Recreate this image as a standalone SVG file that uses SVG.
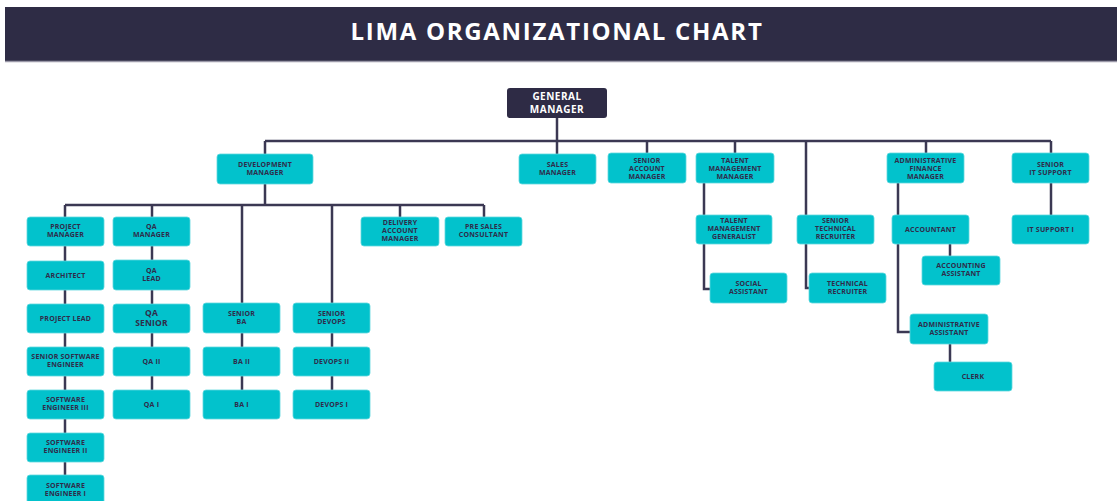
<svg xmlns="http://www.w3.org/2000/svg" width="1117" height="501" viewBox="0 0 1117 501">
<style>
.b{fill:#02c2cc;stroke:#5fd8de;stroke-width:0.8}
.g{fill:#2e2b45}
.t{font-family:"Open Sans","DejaVu Sans",sans-serif;font-weight:700;font-size:7px;fill:#2f2c4a;text-anchor:middle;letter-spacing:0.2px}
.tq{font-size:8.5px}
.tg{font-family:"Open Sans","DejaVu Sans",sans-serif;font-weight:700;font-size:10px;fill:#ffffff;text-anchor:middle;letter-spacing:0.5px}
.c{fill:none;stroke:#3b3853;stroke-width:2.5}
</style>
<rect width="1117" height="501" fill="#ffffff"/>
<g id="header">
<rect x="5" y="7" width="1112" height="54" fill="#2e2c45"/>
<line x1="5" y1="61.5" x2="1117" y2="61.5" stroke="#9a98a8" stroke-width="1.5"/>
<text x="557" y="40" font-family="'Open Sans','DejaVu Sans',sans-serif" font-weight="700" font-size="24" fill="#ffffff" text-anchor="middle" letter-spacing="1.7">LIMA ORGANIZATIONAL CHART</text>
</g>
<g id="connectors">
<path class="c" d="M557 118V154"/>
<path class="c" d="M265 141H1051"/>
<path class="c" d="M265 141V154M647 141V153M735 141V153M926 141V153M1051 141V153"/>
<path class="c" d="M806 141V288H809"/>
<path class="c" d="M265 184V205M65 205H484M65 205V217M152 205V217M242 205V303M332 205V303M400 205V217M484 205V217"/>
<path class="c" d="M65 246V476"/>
<path class="c" d="M152 246V390"/>
<path class="c" d="M242 333V390M332 333V390"/>
<path class="c" d="M704 183V289H710"/>
<path class="c" d="M898 183V332H910"/>
<path class="c" d="M950 244V256M950 344V362"/>
<path class="c" d="M1051 183V215"/>
</g>
<g id="n-gm"><rect class="g" x="507" y="88" width="100" height="30" rx="3"/><text class="tg" x="557" y="100">GENERAL</text><text class="tg" x="557" y="112.5">MANAGER</text></g>
<g id="n-dev"><rect class="b" x="217" y="154" width="96" height="30" rx="3"/><text class="t" x="265" y="166.5">DEVELOPMENT</text><text class="t" x="265" y="174.5">MANAGER</text></g>
<g id="n-sales"><rect class="b" x="519" y="154" width="77" height="30" rx="3"/><text class="t" x="557.5" y="166.5">SALES</text><text class="t" x="557.5" y="174.5">MANAGER</text></g>
<g id="n-sam"><rect class="b" x="608" y="153" width="78" height="30" rx="3"/><text class="t" x="647" y="162.5">SENIOR</text><text class="t" x="647" y="170.5">ACCOUNT</text><text class="t" x="647" y="178.5">MANAGER</text></g>
<g id="n-tmm"><rect class="b" x="696" y="153" width="78" height="30" rx="3"/><text class="t" x="735" y="162.5">TALENT</text><text class="t" x="735" y="170.5">MANAGEMENT</text><text class="t" x="735" y="178.5">MANAGER</text></g>
<g id="n-afm"><rect class="b" x="887" y="153" width="77" height="30" rx="3"/><text class="t" x="925.5" y="162.5">ADMINISTRATIVE</text><text class="t" x="925.5" y="170.5">FINANCE</text><text class="t" x="925.5" y="178.5">MANAGER</text></g>
<g id="n-sits"><rect class="b" x="1012" y="153" width="77" height="30" rx="3"/><text class="t" x="1050.5" y="166.5">SENIOR</text><text class="t" x="1050.5" y="174.5">IT SUPPORT</text></g>
<g id="n-pm"><rect class="b" x="27" y="217" width="77" height="29" rx="3"/><text class="t" x="65.5" y="229">PROJECT</text><text class="t" x="65.5" y="237">MANAGER</text></g>
<g id="n-qam"><rect class="b" x="113" y="217" width="77" height="29" rx="3"/><text class="t" x="151.5" y="229">QA</text><text class="t" x="151.5" y="237">MANAGER</text></g>
<g id="n-arch"><rect class="b" x="27" y="261" width="77" height="29" rx="3"/><text class="t" x="65.5" y="278">ARCHITECT</text></g>
<g id="n-qal"><rect class="b" x="113" y="260" width="77" height="30" rx="3"/><text class="t" x="151.5" y="272.5">QA</text><text class="t" x="151.5" y="280.5">LEAD</text></g>
<g id="n-pl"><rect class="b" x="27" y="304" width="77" height="29" rx="3"/><text class="t" x="65.5" y="321">PROJECT LEAD</text></g>
<g id="n-qas"><rect class="b" x="113" y="304" width="77" height="29" rx="3"/><text class="t tq" x="151.5" y="316">QA</text><text class="t tq" x="151.5" y="326">SENIOR</text></g>
<g id="n-sba"><rect class="b" x="203" y="303" width="77" height="30" rx="3"/><text class="t" x="241.5" y="315.5">SENIOR</text><text class="t" x="241.5" y="323.5">BA</text></g>
<g id="n-sdo"><rect class="b" x="293" y="303" width="77" height="30" rx="3"/><text class="t" x="331.5" y="315.5">SENIOR</text><text class="t" x="331.5" y="323.5">DEVOPS</text></g>
<g id="n-dam"><rect class="b" x="361" y="217" width="78" height="29" rx="3"/><text class="t" x="400" y="225">DELIVERY</text><text class="t" x="400" y="233">ACCOUNT</text><text class="t" x="400" y="241">MANAGER</text></g>
<g id="n-psc"><rect class="b" x="445" y="217" width="77" height="29" rx="3"/><text class="t" x="483.5" y="229">PRE SALES</text><text class="t" x="483.5" y="237">CONSULTANT</text></g>
<g id="n-sse"><rect class="b" x="27" y="347" width="77" height="29" rx="3"/><text class="t" x="65.5" y="359">SENIOR SOFTWARE</text><text class="t" x="65.5" y="367">ENGINEER</text></g>
<g id="n-qa2"><rect class="b" x="113" y="347" width="77" height="29" rx="3"/><text class="t" x="151.5" y="364">QA II</text></g>
<g id="n-ba2"><rect class="b" x="203" y="347" width="77" height="29" rx="3"/><text class="t" x="241.5" y="364">BA II</text></g>
<g id="n-do2"><rect class="b" x="293" y="347" width="77" height="29" rx="3"/><text class="t" x="331.5" y="364">DEVOPS II</text></g>
<g id="n-se3"><rect class="b" x="27" y="390" width="77" height="29" rx="3"/><text class="t" x="65.5" y="402">SOFTWARE</text><text class="t" x="65.5" y="410">ENGINEER III</text></g>
<g id="n-qa1"><rect class="b" x="113" y="390" width="77" height="29" rx="3"/><text class="t" x="151.5" y="407">QA I</text></g>
<g id="n-ba1"><rect class="b" x="203" y="390" width="77" height="29" rx="3"/><text class="t" x="241.5" y="407">BA I</text></g>
<g id="n-do1"><rect class="b" x="293" y="390" width="77" height="29" rx="3"/><text class="t" x="331.5" y="407">DEVOPS I</text></g>
<g id="n-se2"><rect class="b" x="27" y="433" width="77" height="29" rx="3"/><text class="t" x="65.5" y="445">SOFTWARE</text><text class="t" x="65.5" y="453">ENGINEER II</text></g>
<g id="n-se1"><rect class="b" x="27" y="475" width="77" height="30" rx="3"/><text class="t" x="65.5" y="488">SOFTWARE</text><text class="t" x="65.5" y="496">ENGINEER I</text></g>
<g id="n-tmg"><rect class="b" x="696" y="215" width="76" height="29" rx="3"/><text class="t" x="734" y="223">TALENT</text><text class="t" x="734" y="231">MANAGEMENT</text><text class="t" x="734" y="239">GENERALIST</text></g>
<g id="n-sa"><rect class="b" x="710" y="273" width="77" height="30" rx="3"/><text class="t" x="748.5" y="286">SOCIAL</text><text class="t" x="748.5" y="294">ASSISTANT</text></g>
<g id="n-str"><rect class="b" x="797" y="215" width="77" height="29" rx="3"/><text class="t" x="835.5" y="223">SENIOR</text><text class="t" x="835.5" y="231">TECHNICAL</text><text class="t" x="835.5" y="239">RECRUITER</text></g>
<g id="n-tr"><rect class="b" x="809" y="273" width="77" height="30" rx="3"/><text class="t" x="847.5" y="286">TECHNICAL</text><text class="t" x="847.5" y="294">RECRUITER</text></g>
<g id="n-acc"><rect class="b" x="892" y="215" width="77" height="29" rx="3"/><text class="t" x="930.5" y="232">ACCOUNTANT</text></g>
<g id="n-aa"><rect class="b" x="922" y="256" width="78" height="29" rx="3"/><text class="t" x="961" y="268">ACCOUNTING</text><text class="t" x="961" y="276">ASSISTANT</text></g>
<g id="n-adma"><rect class="b" x="910" y="314" width="78" height="30" rx="3"/><text class="t" x="949" y="327">ADMINISTRATIVE</text><text class="t" x="949" y="335">ASSISTANT</text></g>
<g id="n-clerk"><rect class="b" x="934" y="362" width="78" height="29" rx="3"/><text class="t" x="973" y="379">CLERK</text></g>
<g id="n-its1"><rect class="b" x="1012" y="215" width="77" height="29" rx="3"/><text class="t" x="1050.5" y="232">IT SUPPORT I</text></g>
</svg>
